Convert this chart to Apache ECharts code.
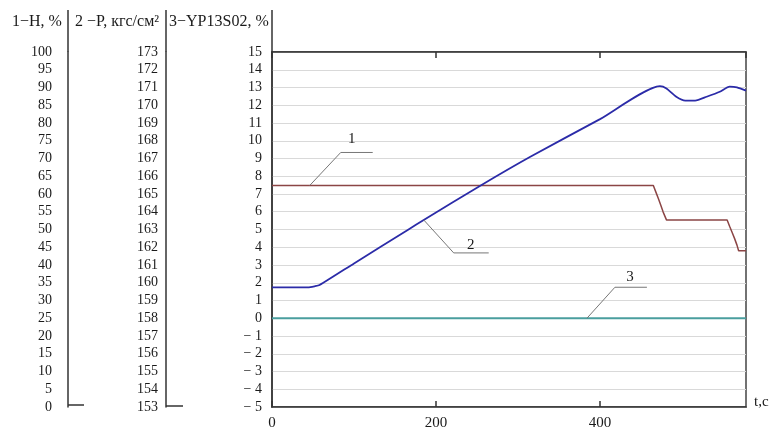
<!DOCTYPE html>
<html><head><meta charset="utf-8">
<script src="https://cdn.jsdelivr.net/npm/echarts@6/dist/echarts.min.js"></script>
<style>html,body{margin:0;padding:0;background:#fff}#c{width:776px;height:428px}</style>
</head><body><div id="c"></div>
<script>
// ---- data ----
const headers = ['1−H, %', '2 −P, кгс/см²', '3−YP13S02, %'];
const xTickValues = [0, 200, 400];
const tMax = 578;
// series 1: H, % (axis 1, 0..100)
const tH = [0, 465, 468, 471, 474, 477, 481, 555, 558, 561, 564, 567, 569, 578];
const vH = [62.4, 62.4, 60.6, 58.8, 56.9, 54.9, 52.7, 52.7, 50.9, 49.2, 47.5, 45.6, 44.0, 44.0];
// series 2: P, кгс/см2 (axis 2, 153..173)
const tP = [0, 44, 52, 58, 100, 166, 185, 254, 315, 400, 473, 481, 493, 504, 516, 530, 546, 558, 567, 578];
const vP = [159.74, 159.74, 159.80, 159.87, 161.09, 162.99, 163.54, 165.47, 167.1, 169.22, 171.08, 170.95, 170.48, 170.26, 170.26, 170.48, 170.76, 171.05, 171.01, 170.82];
// series 3: YP13S02, % (axis 3, -5..15)
const tY = [0, 578];
const vY = [0, 0];
// callout labels: [text, t, value, axisIndex]
const callouts = [['1', 46, 62.4, 0], ['2', 185, 163.54, 1], ['3', 384, 0, 2]];

const zip = (a, b) => a.map((x, i) => [x, b[i]]);
const FONT = 'Liberation Serif';
const TXT = '#1a1a1a';
const chart = echarts.init(document.getElementById('c'), null, {renderer: 'canvas'});

const G = {left: 272, top: 52, right: 30, bottom: 21};
function yAx(min, max, interval, offset, margin, fmt, split) {
  return {
    type: 'value', min, max, interval, position: 'left', offset,
    axisLine: {show: true, onZero: false, lineStyle: {color: '#333', width: 1.5}},
    axisTick: {show: false},
    axisLabel: {fontFamily: FONT, fontSize: 14, color: TXT, margin, formatter: fmt},
    splitLine: {show: split, lineStyle: {color: '#d9d9d9', width: 1}}
  };
}
chart.setOption({
  animation: false,
  backgroundColor: '#fff',
  grid: {left: G.left, top: G.top, right: G.right, bottom: G.bottom, outerBoundsMode: 'none', containLabel: false,
    show: true, borderColor: '#444', borderWidth: 1.5, backgroundColor: 'transparent'},
  xAxis: [{
    type: 'value', min: 0, max: tMax, interval: 200, position: 'bottom',
    axisLine: {onZero: false, lineStyle: {color: '#333', width: 1.5}},
    axisTick: {inside: true, length: 6, lineStyle: {color: '#333', width: 1.5}},
    axisLabel: {fontFamily: FONT, fontSize: 15, color: TXT, margin: 9, showMaxLabel: false,
      formatter: v => xTickValues.includes(v) ? String(v) : ''},
    splitLine: {show: false},
    name: 't,c', nameLocation: 'end', nameGap: 8,
    nameTextStyle: {fontFamily: FONT, fontSize: 15, color: TXT, verticalAlign: 'bottom', padding: [0, 0, -3, 0]}
  }, {
    type: 'value', min: 0, max: tMax, interval: 200, position: 'top',
    axisLine: {onZero: false, lineStyle: {color: '#333', width: 1.5}},
    axisTick: {inside: true, length: 6, lineStyle: {color: '#333', width: 1.5}},
    axisLabel: {show: false}, splitLine: {show: false}
  }],
  yAxis: [
    yAx(0, 100, 5, 204, 16, v => String(v), false),
    yAx(153, 173, 1, 106, 8, v => String(v), false),
    yAx(-5, 15, 1, 0, 10, v => v < 0 ? '− ' + Math.abs(v) : String(v), true)
  ],
  series: [
    {type: 'line', name: '1', xAxisIndex: 0, yAxisIndex: 0, data: zip(tH, vH), showSymbol: false,
      lineStyle: {color: '#8b4545', width: 1.5}, z: 3},
    {type: 'line', name: '2', xAxisIndex: 0, yAxisIndex: 1, data: zip(tP, vP), showSymbol: false, smooth: 0.2,
      lineStyle: {color: '#2b2ba8', width: 1.8}, z: 4},
    {type: 'line', name: '3', xAxisIndex: 0, yAxisIndex: 2, data: zip(tY, vY), showSymbol: false,
      lineStyle: {color: '#4a9e9e', width: 2}, z: 2}
  ]
});

// ---- decorations: headers, axis extensions, callouts ----
const gfx = [];
const headerPos = [[12, 22], [75, 22], [169, 22]];
headers.forEach((h, i) => gfx.push({type: 'text', x: headerPos[i][0], y: headerPos[i][1],
  style: {text: h, font: '16px "Liberation Serif"', fill: TXT, verticalAlign: 'middle'}}));
const axisX = [68, 166, 272];
const lineStyle = {stroke: '#333', lineWidth: 1.5};
axisX.forEach(x => gfx.push({type: 'line', shape: {x1: x, y1: 10, x2: x, y2: G.top}, style: lineStyle}));
gfx.push({type: 'line', shape: {x1: 68, y1: 405, x2: 84, y2: 405}, style: lineStyle});
gfx.push({type: 'line', shape: {x1: 166, y1: 406, x2: 183, y2: 406}, style: lineStyle});
const off = [
  {elbow: [31, -33], end: [63, -33], label: [42, -46]},
  {elbow: [30, 33], end: [65, 33], label: [47, 25]},
  {elbow: [28, -31], end: [60, -31], label: [43, -41]}
];
callouts.forEach((c, i) => {
  const p = chart.convertToPixel({xAxisIndex: 0, yAxisIndex: c[3]}, [c[1], c[2]]);
  const o = off[i];
  gfx.push({type: 'polyline', shape: {points: [p, [p[0] + o.elbow[0], p[1] + o.elbow[1]], [p[0] + o.end[0], p[1] + o.end[1]]]},
    style: {stroke: '#777', lineWidth: 1, fill: null}, z: 10});
  gfx.push({type: 'text', x: p[0] + o.label[0], y: p[1] + o.label[1],
    style: {text: c[0], font: '15px "Liberation Serif"', fill: TXT, align: 'center', verticalAlign: 'middle'}, z: 10});
});
chart.setOption({graphic: gfx});
</script>
</body></html>
